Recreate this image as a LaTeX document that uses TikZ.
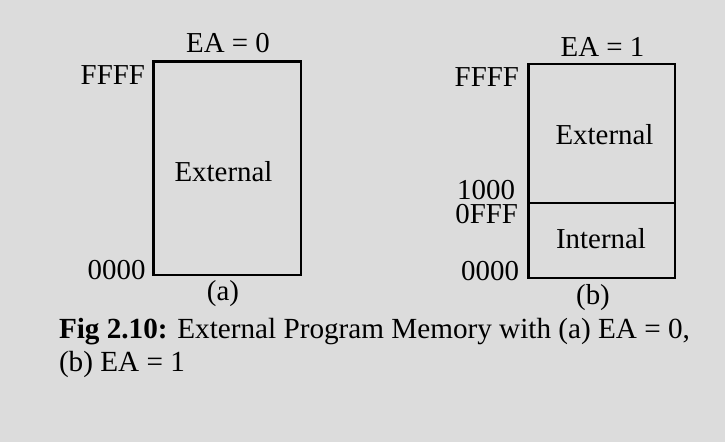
\documentclass[tikz,border=0pt]{standalone}
\usepackage{fontspec}
\setmainfont{Liberation Serif}
\definecolor{pagebg}{HTML}{DCDCDC}
\begin{document}
\begin{tikzpicture}[x=1bp,y=-1bp,
  every node/.style={inner sep=0pt, outer sep=0pt, font=\fontsize{29}{33}\selectfont},
  membox/.style={draw=black, line width=2.3bp},
  addr/.style={anchor=east},
  lbl/.style={anchor=center},
  captext/.style={anchor=base west, font=\fontsize{29.3}{33}\selectfont}]
  % page background and fixed bounds
  \fill[pagebg] (0,0) rectangle (725,442);
  \useasboundingbox (0,0) rectangle (725,442);

  % (a) EA = 0: whole space external
  \node[membox, minimum width=147.7bp, minimum height=213.3bp] (boxA) at (227.2,168.3) {};
  \node[lbl] (eaA) at (228,43.5) {EA = 0};
  \node[lbl] (extA) at (223.5,171.5) {External};
  \node[addr] (topA) at (145,75) {FFFF};
  \node[addr] (botA) at (145.5,270) {0000};
  \node[lbl] (capA) at (223,294) {(a)};

  % (b) EA = 1: internal low block, external above
  \node[membox, minimum width=146.7bp, minimum height=139bp] (extBox) at (601.7,133.8) {};
  \node[membox, minimum width=146.7bp, minimum height=74.4bp] (intBox) at (601.7,240.5) {};
  \node[lbl] (eaB) at (602.5,46.5) {EA = 1};
  \node[lbl] (extB) at (604.5,135) {External};
  \node[lbl] (intB) at (601,239) {Internal};
  \node[addr] (topB) at (519,77) {FFFF};
  \node[addr] (midHi) at (515,190.5) {1000};
  \node[addr] (midLo) at (518,214.5) {0FFF};
  \node[addr] (botB) at (519,271.5) {0000};
  \node[lbl] (capB) at (593,298) {(b)};

  % figure caption
  \node[captext] (cap1) at (59,338.5) {\textbf{Fig 2.10:} External Program Memory with (a) EA = 0,};
  \node[captext] (cap2) at (59,371.5) {(b) EA = 1};
\end{tikzpicture}
\end{document}
